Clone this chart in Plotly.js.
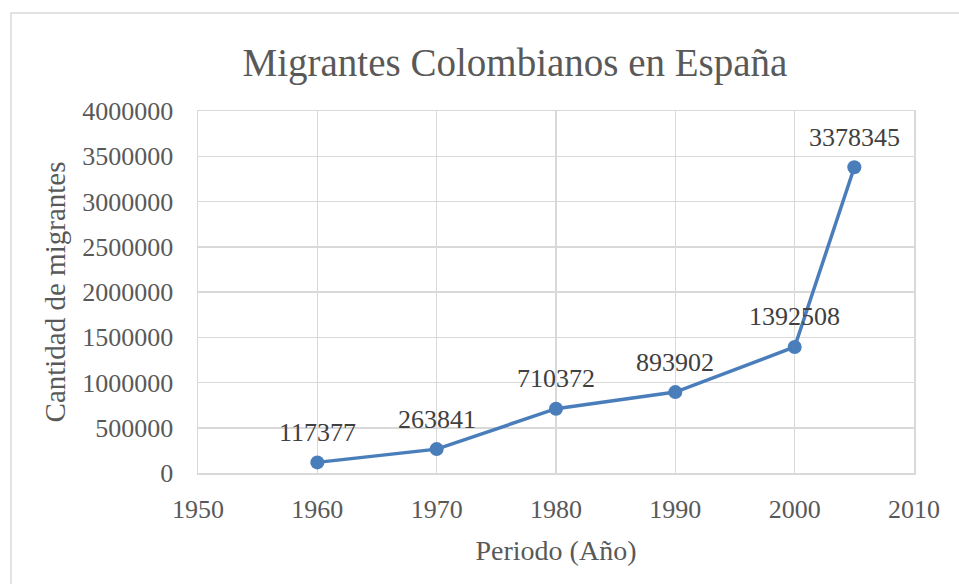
<!DOCTYPE html>
<html>
<head>
<meta charset="utf-8">
<script src="https://cdn.plot.ly/plotly-3.0.1.min.js"></script>
<style>html,body{margin:0;padding:0;background:#fff;}#chart{width:959px;height:584px;}</style>
</head>
<body>
<div id="chart"></div>
<script>
const years = [1960, 1970, 1980, 1990, 2000, 2005];
const migrantes = [117377, 263841, 710372, 893902, 1392508, 3378345];
const labels = ["117377", "263841", "710372", "893902", "1392508", "3378345"];
const titleText = "Migrantes Colombianos en España";
const xTitle = "Periodo (Año)";
const yTitle = "Cantidad de migrantes";

const FONT = "Liberation Serif, DejaVu Serif, serif";
const TXT = "#595959";
const GRID = "#d9d9d9";
const BLUE = "#4a7ebb";

const trace = {
  x: years, y: migrantes, type: "scatter", mode: "lines+markers",
  line: {color: BLUE, width: 3.5},
  marker: {color: BLUE, size: 14},
  hoverinfo: "x+y"
};

const annotations = years.map((yr, i) => ({
  x: yr, y: migrantes[i], xref: "x", yref: "y", text: labels[i],
  showarrow: false, yshift: 30,
  font: {family: FONT, size: 26, color: "#404040"}
}));

const layout = {
  width: 959, height: 584,
  margin: {l: 198, r: 45, t: 111, b: 111, pad: 0},
  paper_bgcolor: "#fff", plot_bgcolor: "#fff",
  showlegend: false,
  title: {text: titleText, font: {family: FONT, size: 39, color: TXT}, x: 0.537, xref: "container", xanchor: "center", y: 0.893, yref: "container", yanchor: "middle"},
  xaxis: {
    range: [1950, 2010], dtick: 10, tick0: 1950,
    showgrid: true, gridcolor: GRID, gridwidth: 1.5,
    showline: true, linecolor: GRID, linewidth: 1.5, mirror: true,
    zeroline: false, ticks: "", ticklabelstandoff: 12,
    tickfont: {family: FONT, size: 26, color: TXT},
    title: {text: xTitle, font: {family: FONT, size: 28, color: TXT}, standoff: 17}
  },
  yaxis: {
    range: [0, 4000000], dtick: 500000, tick0: 0,
    tickformat: "d", exponentformat: "none",
    showgrid: true, gridcolor: GRID, gridwidth: 1.5,
    showline: true, linecolor: GRID, linewidth: 1.5, mirror: true,
    zeroline: false, ticks: "", ticklabelstandoff: 18,
    tickfont: {family: FONT, size: 26, color: TXT},
    title: {text: yTitle, font: {family: FONT, size: 29, color: TXT}, standoff: 8}
  },
  annotations: annotations,
  shapes: [{
    type: "rect", xref: "paper", yref: "paper",
    x0: (11 - 198) / 716, x1: (1000 - 198) / 716,
    y0: -0.6, y1: (473 - 13) / 362,
    line: {color: GRID, width: 1.5}, fillcolor: "rgba(0,0,0,0)", layer: "below"
  }]
};

Plotly.newPlot("chart", [trace], layout, {displayModeBar: false, staticPlot: true});
</script>
</body>
</html>
